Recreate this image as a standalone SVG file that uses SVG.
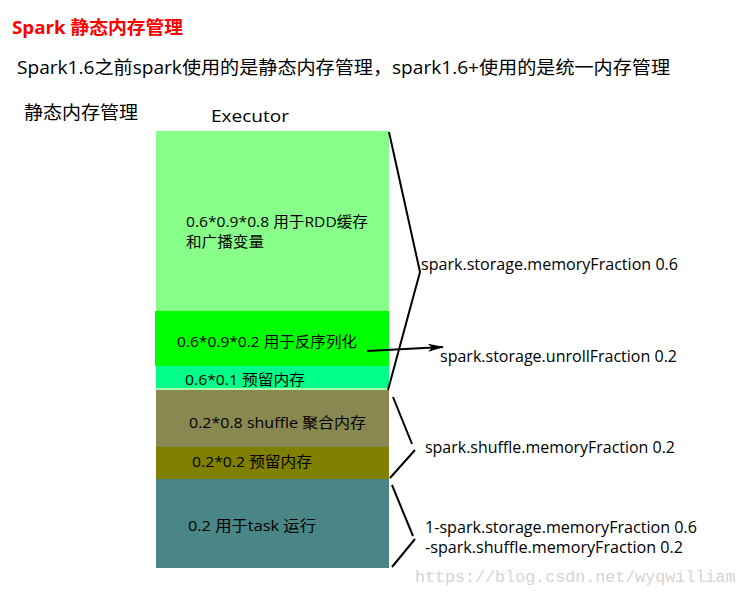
<svg xmlns="http://www.w3.org/2000/svg" width="747" height="596" viewBox="0 0 747 596">
<defs>
<style>
text{font-family:"Open Sans","Noto Sans CJK SC",sans-serif;fill:#000;}
.t1{font-size:18.6px;font-weight:bold;fill:#ff0000;}
.t2{font-size:18.6px;}
.ex{font-size:17px;}
.lb{font-size:15px;}
.rl{font-size:15.5px;}
.br{fill:none;stroke:#000;stroke-width:2;}
.wm{font-family:"Liberation Mono",monospace;font-size:16.7px;fill:#d4d4d4;}
</style>
<marker id="ah" markerWidth="16" markerHeight="8" refX="15" refY="4" orient="auto" markerUnits="userSpaceOnUse">
<path d="M0,0 L16,4 L0,8 L4,4 Z" fill="#000"/>
</marker>
</defs>
<rect width="747" height="596" fill="#fff"/>
<text class="t1" x="12" y="34" textLength="171" lengthAdjust="spacingAndGlyphs">Spark 静态内存管理</text>
<text class="t2" x="17" y="74" textLength="653" lengthAdjust="spacingAndGlyphs">Spark1.6之前spark使用的是静态内存管理，spark1.6+使用的是统一内存管理</text>
<text class="t2" x="24" y="119" textLength="114" lengthAdjust="spacingAndGlyphs">静态内存管理</text>
<text class="ex" x="211" y="122" textLength="78" lengthAdjust="spacingAndGlyphs">Executor</text>
<g id="rdd"><rect x="156" y="131" width="233" height="180" fill="#88ff88"/>
<text class="lb" x="186" y="227" textLength="182" lengthAdjust="spacingAndGlyphs">0.6*0.9*0.8 用于RDD缓存</text>
<text class="lb" x="186" y="247" textLength="78" lengthAdjust="spacingAndGlyphs">和广播变量</text></g>
<g id="unroll"><rect x="155" y="311" width="234" height="55" fill="#00ff00"/>
<text class="lb" x="177" y="347" textLength="180" lengthAdjust="spacingAndGlyphs">0.6*0.9*0.2 用于反序列化</text></g>
<g id="reserve1"><rect x="156" y="366" width="233" height="22" fill="#00ff88"/>
<rect x="156" y="388" width="233" height="2" fill="#a8ffa8"/>
<text class="lb" x="185" y="385" textLength="120" lengthAdjust="spacingAndGlyphs">0.6*0.1 预留内存</text></g>
<g id="shuffle"><rect x="156" y="390" width="233" height="57" fill="#888850"/>
<text class="lb" x="189" y="428" textLength="177" lengthAdjust="spacingAndGlyphs">0.2*0.8 shuffle 聚合内存</text></g>
<g id="reserve2"><rect x="156" y="447" width="233" height="32" fill="#808000"/>
<text class="lb" x="192" y="467" textLength="120" lengthAdjust="spacingAndGlyphs">0.2*0.2 预留内存</text></g>
<g id="task"><rect x="156" y="479" width="233" height="89" fill="#4a8686"/>
<text class="lb" x="188" y="531" textLength="128" lengthAdjust="spacingAndGlyphs">0.2 用于task 运行</text></g>
<g id="connectors">
<polyline class="br" points="389,132 420,272 388,390"/>
<line class="br" x1="393" y1="397" x2="412" y2="444"/>
<line class="br" x1="415" y1="450" x2="390" y2="478"/>
<line class="br" x1="392" y1="485" x2="413" y2="536"/>
<line class="br" x1="415" y1="539" x2="392" y2="567"/>
<line class="br" x1="367" y1="351" x2="443" y2="347" marker-end="url(#ah)"/>
</g>
<g id="labels">
<text class="rl" x="421" y="270" textLength="257" lengthAdjust="spacingAndGlyphs">spark.storage.memoryFraction 0.6</text>
<text class="rl" x="440" y="362" textLength="237" lengthAdjust="spacingAndGlyphs">spark.storage.unrollFraction 0.2</text>
<text class="rl" x="425" y="453" textLength="250" lengthAdjust="spacingAndGlyphs">spark.shuffle.memoryFraction 0.2</text>
<text class="rl" x="425" y="533" textLength="272" lengthAdjust="spacingAndGlyphs">1-spark.storage.memoryFraction 0.6</text>
<text class="rl" x="425" y="553" textLength="258" lengthAdjust="spacingAndGlyphs">-spark.shuffle.memoryFraction 0.2</text>
</g>
<text class="wm" x="415" y="582">https://blog.csdn.net/wyqwilliam</text>
</svg>
